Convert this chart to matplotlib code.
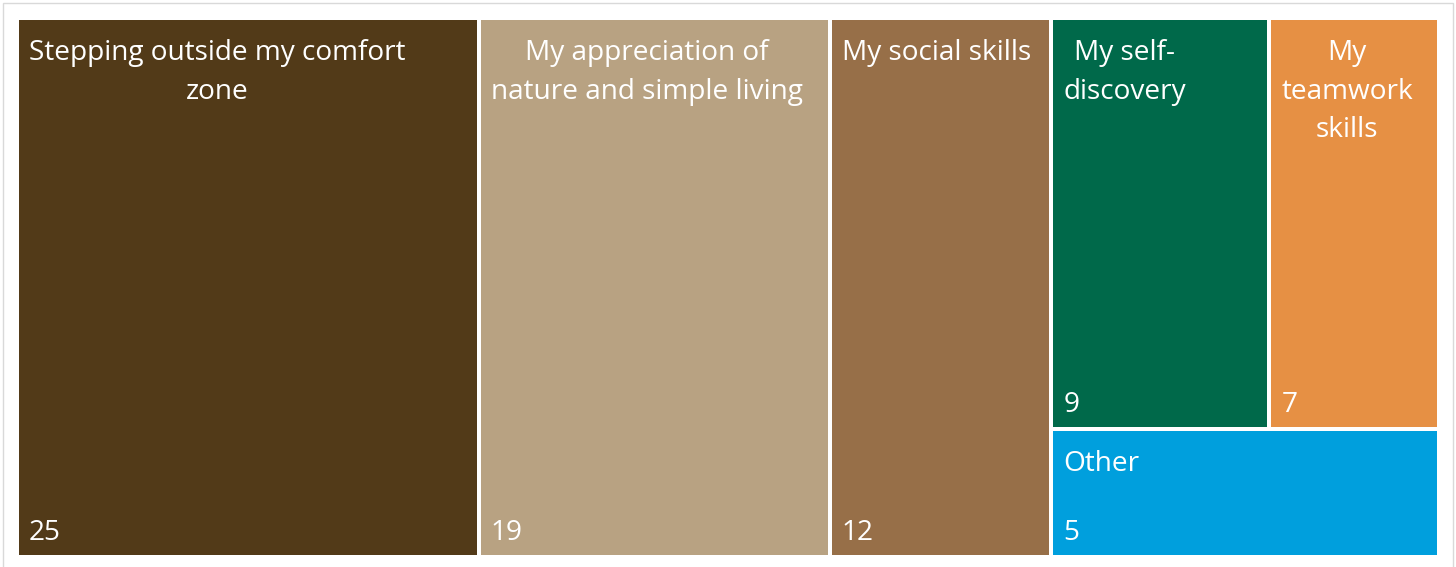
import matplotlib.pyplot as plt
from matplotlib.patches import Rectangle

labels = ["Stepping outside my comfort\nzone",
          "My appreciation of\nnature and simple living",
          "My social skills",
          "My self-\ndiscovery",
          "My\nteamwork\nskills",
          "Other"]
values = [25, 19, 12, 9, 7, 5]
colors = ["#523a18", "#b8a282", "#976f48", "#00694a", "#e69044", "#009fdd"]

W, H = 1456, 567
PX = 72 / 100  # points per pixel


def layout(vals):
    # first three get full-height columns, the rest share the last column:
    # two side by side on top, the last one below
    boxes = []
    x = 0
    for v in vals[:3]:
        boxes.append((x, 0, v, 1))
        x += v
    rest = vals[3:]
    w = sum(rest)
    top = rest[0] + rest[1]
    h = top / w
    xx = x
    for v in rest[:2]:
        ww = v / top * w
        boxes.append((xx, 0, ww, h))
        xx += ww
    boxes.append((x, h, w, 1 - h))
    return boxes


plt.rcParams['font.family'] = ['Open Sans', 'DejaVu Sans']
fig = plt.figure(figsize=(W / 100, H / 100), dpi=100)

# light outer frame
fig.patches.append(Rectangle((3 / W, -0.01), 1450 / W, 1 - 3 / H + 0.01,
                             transform=fig.transFigure, fill=False,
                             edgecolor='#d9d9d9', lw=1))

ax = fig.add_axes([17 / W, 1 - 557 / H, 1422 / W, 539 / H])
ax.set_xlim(0, sum(values))
ax.set_ylim(1, 0)
ax.axis('off')

for (x, y, w, h), lab, v, c in zip(layout(values), labels, values, colors):
    ax.add_patch(Rectangle((x, y), w, h, facecolor=c, edgecolor='white', lw=4 * PX))
    ax.annotate(lab, (x, y), xytext=(12 * PX, -21 * PX), textcoords='offset points',
                ha='left', va='top', multialignment='center',
                color='white', fontsize=20.2, linespacing=1.51)
    ax.annotate(str(v), (x, y + h), xytext=(12 * PX, 17 * PX), textcoords='offset points',
                ha='left', va='baseline', color='white', fontsize=20.2)

fig.savefig('out.png', dpi=100)
